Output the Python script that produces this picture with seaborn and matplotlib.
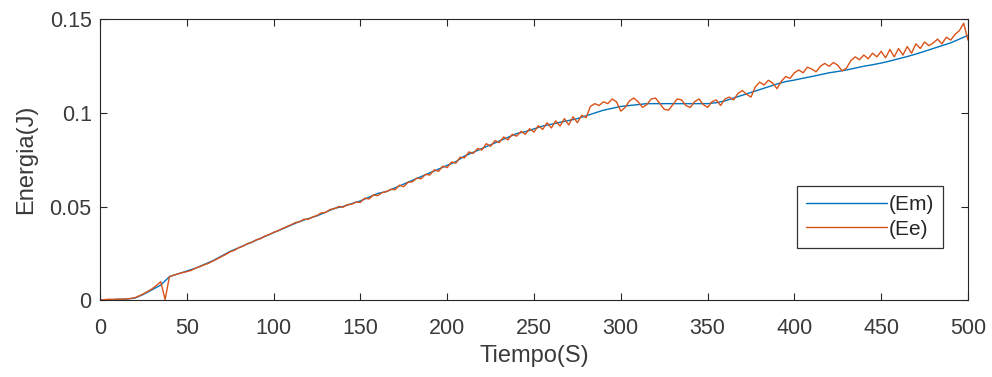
import numpy as np
import pandas as pd
import matplotlib
matplotlib.use("Agg")
import matplotlib.pyplot as plt
import seaborn as sns
from matplotlib.ticker import FuncFormatter

# Em: smooth curve, one value every 5 s
t_em = np.arange(0, 500.1, 5)
em = [0.0000, 0.0002, 0.0003, 0.0005, 0.0010, 0.0030, 0.0055, 0.0080, 0.0125, 0.0140,
      0.0155, 0.0170, 0.0190, 0.0210, 0.0235, 0.0260, 0.0280, 0.0300, 0.0320, 0.0340,
      0.0360, 0.0380, 0.0400, 0.0420, 0.0435, 0.0450, 0.0470, 0.0490, 0.0500, 0.0515,
      0.0530, 0.0550, 0.0570, 0.0580, 0.0600, 0.0620, 0.0640, 0.0660, 0.0680, 0.0700,
      0.0720, 0.0740, 0.0770, 0.0790, 0.0810, 0.0830, 0.0850, 0.0870, 0.0890, 0.0900,
      0.0915, 0.0930, 0.0940, 0.0950, 0.0960, 0.0970, 0.0985, 0.1000, 0.1015, 0.1025,
      0.1035, 0.1040, 0.1045, 0.1050, 0.1050, 0.1050, 0.1050, 0.1050, 0.1050, 0.1050,
      0.1050, 0.1055, 0.1065, 0.1080, 0.1095, 0.1110, 0.1125, 0.1140, 0.1155, 0.1168,
      0.1176, 0.1186, 0.1195, 0.1205, 0.1215, 0.1222, 0.1230, 0.1240, 0.1250, 0.1258,
      0.1267, 0.1278, 0.1290, 0.1302, 0.1315, 0.1330, 0.1345, 0.1360, 0.1375, 0.1395,
      0.1415]

# Ee: noisy measurement, one value every 2.5 s
t_ee = np.arange(0, 500.1, 2.5)
ee = [0.0000, 0.0002, 0.0004, 0.0003, 0.0005, 0.0004, 0.0006, 0.0008, 0.0012, 0.0022,
      0.0033, 0.0046, 0.0060, 0.0078, 0.0098, 0.0002, 0.0125, 0.0133, 0.0140, 0.0146,
      0.0152, 0.0158, 0.0170, 0.0178, 0.0188, 0.0196, 0.0208, 0.0220, 0.0232, 0.0244,
      0.0258, 0.0266, 0.0280, 0.0288, 0.0302, 0.0308, 0.0322, 0.0328, 0.0342, 0.0350,
      0.0362, 0.0370, 0.0382, 0.0392, 0.0402, 0.0414, 0.0418, 0.0432, 0.0432, 0.0444,
      0.0452, 0.0466, 0.0468, 0.0484, 0.0488, 0.0500, 0.0496, 0.0510, 0.0512, 0.0524,
      0.0522, 0.0545, 0.0540, 0.0562, 0.0558, 0.0574, 0.0580, 0.0592, 0.0590, 0.0614,
      0.0606, 0.0630, 0.0632, 0.0652, 0.0648, 0.0672, 0.0668, 0.0696, 0.0688, 0.0716,
      0.0708, 0.0738, 0.0732, 0.0764, 0.0760, 0.0792, 0.0784, 0.0810, 0.0802, 0.0836,
      0.0822, 0.0852, 0.0842, 0.0872, 0.0856, 0.0886, 0.0876, 0.0902, 0.0886, 0.0916,
      0.0898, 0.0932, 0.0912, 0.0948, 0.0920, 0.0958, 0.0930, 0.0970, 0.0936, 0.0980,
      0.0948, 0.0988, 0.0975, 0.1035, 0.1050, 0.1040, 0.1060, 0.1050, 0.1075, 0.1060,
      0.1010, 0.1030, 0.1065, 0.1080, 0.1060, 0.1030, 0.1045, 0.1075, 0.1080, 0.1050,
      0.1020, 0.1015, 0.1045, 0.1075, 0.1070, 0.1040, 0.1030, 0.1060, 0.1075, 0.1045,
      0.1030, 0.1060, 0.1070, 0.1040, 0.1075, 0.1085, 0.1070, 0.1105, 0.1120, 0.1100,
      0.1085, 0.1140, 0.1165, 0.1150, 0.1175, 0.1160, 0.1130, 0.1170, 0.1195, 0.1185,
      0.1215, 0.1230, 0.1215, 0.1245, 0.1235, 0.1220, 0.1250, 0.1265, 0.1250, 0.1270,
      0.1255, 0.1225, 0.1240, 0.1280, 0.1300, 0.1285, 0.1310, 0.1290, 0.1320, 0.1300,
      0.1330, 0.1295, 0.1340, 0.1300, 0.1345, 0.1310, 0.1355, 0.1320, 0.1370, 0.1345,
      0.1380, 0.1360, 0.1375, 0.1395, 0.1370, 0.1405, 0.1390, 0.1420, 0.1440, 0.1480,
      0.1390]

x_ticks = [0, 50, 100, 150, 200, 250, 300, 350, 400, 450, 500]
y_ticks = [0, 0.05, 0.1, 0.15]

df_em = pd.DataFrame({"t": t_em, "E": em})
df_ee = pd.DataFrame({"t": t_ee, "E": ee})

sns.set_theme(style="ticks")
plt.rcParams["font.family"] = ["Liberation Sans", "DejaVu Sans"]

fig = plt.figure(figsize=(9.92, 3.77), dpi=100)
ax = fig.add_axes([0.1008, 0.2042, 0.875, 0.7441])

sns.lineplot(data=df_em, x="t", y="E", ax=ax, color="#0072BD", linewidth=1.0, label="(Em)")
sns.lineplot(data=df_ee, x="t", y="E", ax=ax, color="#D95319", linewidth=1.0, label="(Ee)")

ax.set_xlim(0, 500)
ax.set_ylim(0, 0.15)
ax.set_xticks(x_ticks)
ax.set_yticks(y_ticks)
ax.yaxis.set_major_formatter(FuncFormatter(lambda v, p: f"{v:g}"))

ax.tick_params(direction="in", length=5, width=0.8, top=True, right=True,
               labelsize=15.5, labelcolor="#3a3a3a", color="#262626")
ax.tick_params(axis="x", pad=13)
ax.tick_params(axis="y", pad=6)
for s in ax.spines.values():
    s.set_linewidth(0.8)
    s.set_color("#262626")

ax.set_xlabel("Tiempo(S)", fontsize=17, color="#3a3a3a", labelpad=4)
ax.set_ylabel("Energia(J)", fontsize=17, color="#3a3a3a", labelpad=9)

leg = ax.legend(loc="upper left", bbox_to_anchor=(0.803, 0.406), fontsize=15,
                frameon=True, fancybox=False, edgecolor="black", handlelength=3.85,
                handletextpad=0.1, borderpad=0.45, labelspacing=0.25, borderaxespad=0)
leg.get_frame().set_linewidth(0.9)
for txt in leg.get_texts():
    txt.set_color("#262626")

fig.savefig("out.png", dpi=100)
